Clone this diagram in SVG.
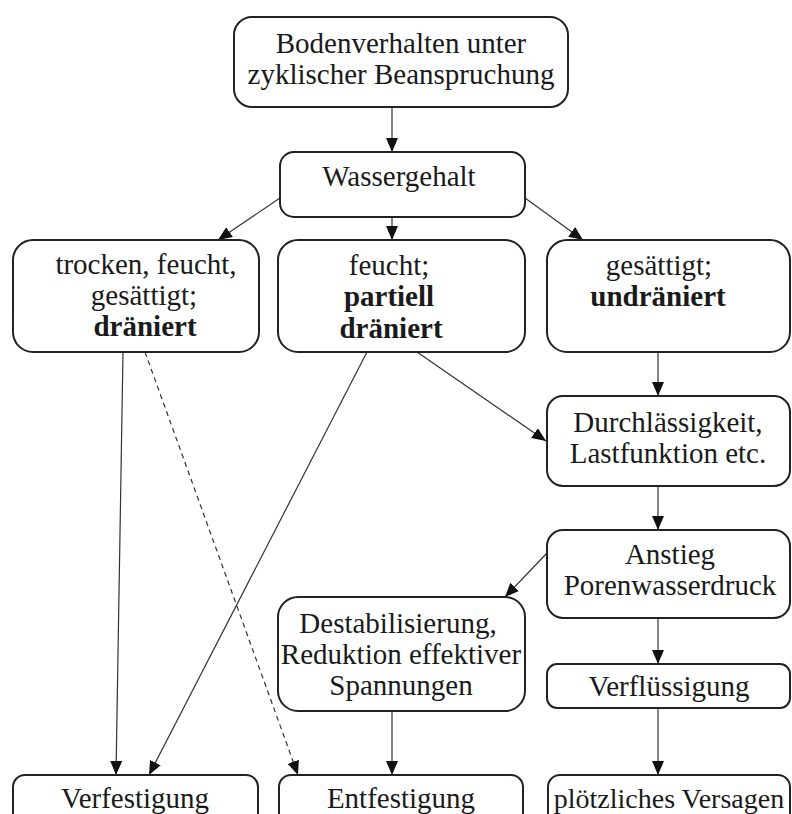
<svg xmlns="http://www.w3.org/2000/svg" width="792" height="814" viewBox="0 0 792 814">
<defs>
<marker id="ah" markerUnits="userSpaceOnUse" markerWidth="14" markerHeight="12" refX="14" refY="6" orient="auto">
<path d="M0,0 L14,6 L0,12 z" fill="#111"/>
</marker>
<style>
.box{fill:#fff;stroke:#222;stroke-width:2}
.t{font-family:"Liberation Serif","Times New Roman",serif;font-size:29px;fill:#1a1a1a;text-anchor:middle}
.s{font-size:28px}
.b{font-weight:bold}
.c{fill:none;stroke:#333;stroke-width:1.2;marker-end:url(#ah)}
.d{stroke-dasharray:5,4}
</style>
</defs>
<rect width="792" height="814" fill="#fff"/>
<g id="connectors">
<line class="c" x1="392" y1="107" x2="392" y2="152"/>
<line class="c" x1="280" y1="198" x2="218" y2="240"/>
<line class="c" x1="392" y1="217" x2="392" y2="240"/>
<line class="c" x1="525" y1="198" x2="583" y2="240"/>
<line class="c" x1="123" y1="352" x2="116" y2="775"/>
<line class="c d" x1="145" y1="352" x2="298" y2="775"/>
<line class="c" x1="367" y1="352" x2="149" y2="775"/>
<line class="c" x1="417" y1="352" x2="546" y2="441"/>
<line class="c" x1="658" y1="352" x2="658" y2="396"/>
<line class="c" x1="658" y1="486" x2="658" y2="530"/>
<line class="c" x1="547" y1="553" x2="505" y2="597"/>
<line class="c" x1="658" y1="618" x2="658" y2="664"/>
<line class="c" x1="392" y1="711" x2="392" y2="775"/>
<line class="c" x1="658" y1="708" x2="658" y2="775"/>
</g>
<g id="n_boden">
<rect class="box" x="234" y="17" width="334" height="90" rx="18"/>
<text class="t" x="401" y="53">Bodenverhalten unter</text>
<text class="t" x="401" y="84">zyklischer Beanspruchung</text>
</g>
<g id="n_wasser">
<rect class="box" x="280" y="152" width="245" height="65" rx="14"/>
<text class="t" x="399" y="186">Wassergehalt</text>
</g>
<g id="n_draniert">
<rect class="box" x="13" y="240" width="246" height="112" rx="20"/>
<text class="t" x="146" y="274">trocken, feucht,</text>
<text class="t" x="144" y="305">gesättigt;</text>
<text class="t b" x="145" y="336">dräniert</text>
</g>
<g id="n_partiell">
<rect class="box" x="278" y="240" width="247" height="112" rx="20"/>
<text class="t" x="389" y="275">feucht;</text>
<text class="t b" x="389" y="306">partiell</text>
<text class="t b" x="391" y="338">dräniert</text>
</g>
<g id="n_undraniert">
<rect class="box" x="547" y="240" width="243" height="112" rx="20"/>
<text class="t" x="659" y="275">gesättigt;</text>
<text class="t b" x="658" y="306">undräniert</text>
</g>
<g id="n_durchl">
<rect class="box" x="547" y="396" width="243" height="90" rx="16"/>
<text class="t" x="668" y="432">Durchlässigkeit,</text>
<text class="t" x="668" y="463">Lastfunktion etc.</text>
</g>
<g id="n_anstieg">
<rect class="box" x="547" y="530" width="243" height="88" rx="16"/>
<text class="t" x="670" y="564">Anstieg</text>
<text class="t" x="670" y="595">Porenwasserdruck</text>
</g>
<g id="n_destab">
<rect class="box" x="278" y="597" width="247" height="114" rx="20"/>
<text class="t" x="398" y="633">Destabilisierung,</text>
<text class="t" x="401" y="664">Reduktion effektiver</text>
<text class="t" x="401" y="695">Spannungen</text>
</g>
<g id="n_verfl">
<rect class="box" x="547" y="664" width="243" height="44" rx="10"/>
<text class="t" x="669" y="696">Verflüssigung</text>
</g>
<g id="n_verfest">
<rect class="box" x="13" y="775" width="245" height="60" rx="12"/>
<text class="t" x="135" y="808">Verfestigung</text>
</g>
<g id="n_entfest">
<rect class="box" x="279" y="775" width="244" height="60" rx="12"/>
<text class="t" x="401" y="808">Entfestigung</text>
</g>
<g id="n_versagen">
<rect class="box" x="548" y="775" width="242" height="60" rx="12"/>
<text class="t s" x="669" y="808">plötzliches Versagen</text>
</g>
</svg>
